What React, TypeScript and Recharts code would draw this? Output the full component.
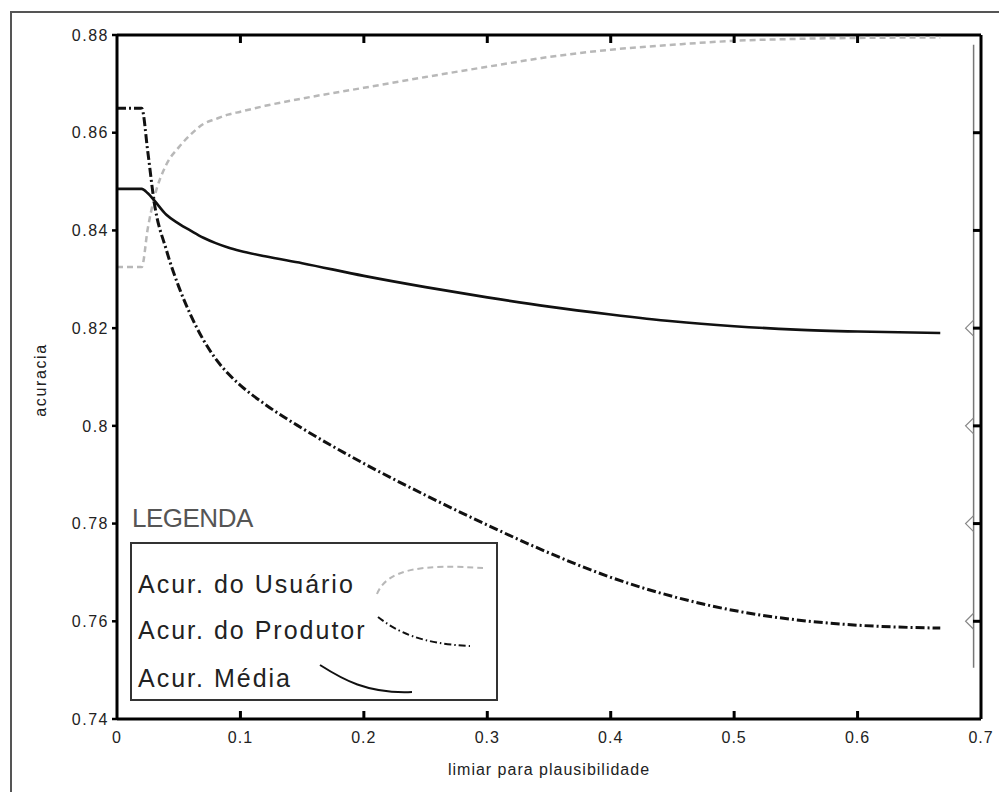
import React from 'react';
import { LineChart, Line, XAxis, YAxis, ReferenceLine, ReferenceDot } from 'recharts';

// ---- data ----
const thresholds = [0, 0.02, 0.025, 0.03, 0.04, 0.05, 0.06, 0.07, 0.08, 0.09, 0.1, 0.12, 0.15, 0.2, 0.25, 0.3, 0.35, 0.4, 0.45, 0.5, 0.55, 0.6, 0.667];
const acurUsuario = [0.8325, 0.8325, 0.8405, 0.8465, 0.8535, 0.857, 0.8597, 0.8618, 0.8628, 0.8637, 0.8643, 0.8655, 0.867, 0.8692, 0.8714, 0.8735, 0.8755, 0.877, 0.878, 0.8788, 0.8792, 0.8794, 0.8795];
const acurProdutor = [0.865, 0.865, 0.856, 0.846, 0.836, 0.8285, 0.8225, 0.8176, 0.8137, 0.8107, 0.8083, 0.8044, 0.7995, 0.7923, 0.7858, 0.7797, 0.774, 0.769, 0.7651, 0.7622, 0.7603, 0.7592, 0.7586];
const acurMedia = [0.8485, 0.8485, 0.8476, 0.8462, 0.8432, 0.8414, 0.8399, 0.8385, 0.8374, 0.8365, 0.8358, 0.8347, 0.8333, 0.8307, 0.8284, 0.8263, 0.8244, 0.8228, 0.8214, 0.8204, 0.8197, 0.8193, 0.819];
const xTicks = [0, 0.1, 0.2, 0.3, 0.4, 0.5, 0.6, 0.7];
const yTicks = [0.74, 0.76, 0.78, 0.8, 0.82, 0.84, 0.86, 0.88];
const xDomain = [0, 0.7];
const yDomain = [0.74, 0.88];
const seriesNames = ['Acur. do Usuário', 'Acur. do Produtor', 'Acur. Média'];
const legendTitle = 'LEGENDA';
const xTitle = 'limiar para plausibilidade';
const yTitle = 'acuracia';
const rightMarkerX = 0.694;
const rightMarkerLevels = [0.82, 0.8, 0.78, 0.76];
const rightLineRange = [0.7505, 0.878];

const data = thresholds.map((x, i) => ({
  x,
  usuario: acurUsuario[i],
  produtor: acurProdutor[i],
  media: acurMedia[i],
}));

// ---- layout ----
const W = 999;
const H = 792;
const MARGIN = { top: 35, right: 18, bottom: 8, left: 57 };
const Y_AXIS_W = 60;
const X_AXIS_H = 65;
const PLOT_L = MARGIN.left + Y_AXIS_W;
const PLOT_T = MARGIN.top;
const PLOT_W = W - MARGIN.left - MARGIN.right - Y_AXIS_W;
const PLOT_H = H - MARGIN.top - MARGIN.bottom - X_AXIS_H;
const INNER_TICK = 8;
const OUTER_TICK = 5;

const FONT = "'Liberation Sans', Arial, sans-serif";

// axis-frame tick positions (same linear mapping as the chart's axes)
const tickX = (v: number) => PLOT_L + ((v - xDomain[0]) / (xDomain[1] - xDomain[0])) * PLOT_W;
const tickY = (v: number) => PLOT_T + ((yDomain[1] - v) / (yDomain[1] - yDomain[0])) * PLOT_H;

const YTitle = (props: any) => {
  const vb = props.viewBox || { x: MARGIN.left, y: MARGIN.top, width: Y_AXIS_W, height: PLOT_H };
  const cx = vb.x - 17;
  const cy = vb.y + vb.height / 2 + 3;
  return (
    <text x={cx} y={cy} transform={`rotate(-90 ${cx} ${cy})`} textAnchor="middle" dominantBaseline="central" fontSize={16} fill="#222" letterSpacing={1.6} fontFamily={FONT}>
      {yTitle}
    </text>
  );
};

const Chevron = (props: any) => {
  const { cx, cy } = props;
  if (cx == null || cy == null) return <g />;
  return <path d={`M${cx},${cy - 8} L${cx - 8},${cy} L${cx},${cy + 8}`} fill="none" stroke="#888" strokeWidth={1.2} />;
};

const legendStyles = [
  { stroke: '#b8b8b8', dash: '6 4', d: 'M245,50 C255,25 290,20 351,24' },
  { stroke: '#111', dash: '7 3 1.5 3', d: 'M246,73 C265,88 290,100 338,102' },
  { stroke: '#111', dash: undefined, d: 'M188,121 C210,135 235,150 280,148' },
];
const legendTops = [28, 74, 122];

export default function App() {
  const innerX = xTicks.filter((t) => t > xDomain[0] && t < xDomain[1]);
  const innerY = yTicks.filter((t) => t > yDomain[0] && t < yDomain[1]);
  return (
    <div style={{ position: 'absolute', left: 0, top: 0, width: W, height: H, overflow: 'hidden', background: '#fff', fontFamily: FONT }}>
      <div style={{ position: 'absolute', left: 10, top: 11, width: 1010, height: 820, border: '2px solid #555' }} />
      <LineChart width={W} height={H} data={data} margin={MARGIN}>
        <XAxis
          dataKey="x"
          type="number"
          domain={xDomain}
          ticks={xTicks}
          height={X_AXIS_H}
          tickSize={7}
          tickMargin={6}
          tickLine={false}
          tick={{ fontSize: 16, fill: '#222', letterSpacing: 1 } as any}
          axisLine={{ stroke: '#000', strokeWidth: 3 }}
          label={{ value: xTitle, position: 'insideBottom', offset: 9, fontSize: 16, fill: '#222', letterSpacing: 1 } as any}
        />
        <YAxis
          type="number"
          domain={yDomain}
          ticks={yTicks}
          width={Y_AXIS_W}
          tickSize={5}
          tickMargin={3}
          tick={{ fontSize: 16, fill: '#222', letterSpacing: 1.5 } as any}
          tickLine={false}
          axisLine={{ stroke: '#000', strokeWidth: 3 }}
          label={(p: any) => <YTitle {...p} />}
        />
        {/* plot frame: top and right edges */}
        <ReferenceLine y={yDomain[1]} stroke="#000" strokeWidth={3} ifOverflow="visible" />
        <ReferenceLine x={xDomain[1]} stroke="#000" strokeWidth={3} ifOverflow="visible" />
        <ReferenceLine
          segment={[{ x: rightMarkerX, y: rightLineRange[0] }, { x: rightMarkerX, y: rightLineRange[1] }]}
          stroke="#777"
          strokeWidth={1.5}
        />
        {rightMarkerLevels.map((lv) => (
          <ReferenceDot key={lv} x={rightMarkerX} y={lv} r={0} shape={<Chevron />} />
        ))}
        <Line type="monotone" dataKey="usuario" name={seriesNames[0]} stroke="#b8b8b8" strokeWidth={2.5} strokeDasharray="6 4" dot={false} isAnimationActive={false} />
        <Line type="monotone" dataKey="produtor" name={seriesNames[1]} stroke="#111" strokeWidth={3} strokeDasharray="9 3 2 3" dot={false} isAnimationActive={false} />
        <Line type="monotone" dataKey="media" name={seriesNames[2]} stroke="#111" strokeWidth={2.6} dot={false} isAnimationActive={false} />
      </LineChart>
      {/* frame tick marks: inward on bottom/top/right, outward on left */}
      <svg width={W} height={H} style={{ position: 'absolute', left: 0, top: 0, pointerEvents: 'none' }}>
        {innerX.map((t) => (
          <g key={'x' + t}>
            <line x1={tickX(t)} x2={tickX(t)} y1={PLOT_T + PLOT_H} y2={PLOT_T + PLOT_H - INNER_TICK} stroke="#000" strokeWidth={3} />
            <line x1={tickX(t)} x2={tickX(t)} y1={PLOT_T} y2={PLOT_T + INNER_TICK} stroke="#000" strokeWidth={3} />
          </g>
        ))}
        {innerY.map((t) => (
          <line key={'r' + t} x1={PLOT_L + PLOT_W} x2={PLOT_L + PLOT_W - INNER_TICK} y1={tickY(t)} y2={tickY(t)} stroke="#000" strokeWidth={3} />
        ))}
        {yTicks.map((t) => (
          <line key={'l' + t} x1={PLOT_L} x2={PLOT_L - OUTER_TICK} y1={tickY(t)} y2={tickY(t)} stroke="#000" strokeWidth={2.5} />
        ))}
      </svg>
      <div style={{ position: 'absolute', left: 132, top: 505, fontSize: 26, lineHeight: '26px', color: '#555', letterSpacing: -0.5 }}>
        {legendTitle}
      </div>
      <div style={{ position: 'absolute', left: 130, top: 542, width: 368, height: 159, border: '2px solid #333', boxSizing: 'border-box', background: '#fff' }}>
        <svg width={364} height={155} style={{ position: 'absolute', left: 0, top: 0 }}>
          {legendStyles.map((s, i) => (
            <path key={i} d={s.d} fill="none" stroke={s.stroke} strokeWidth={2} strokeDasharray={s.dash} />
          ))}
        </svg>
        {seriesNames.map((n, i) => (
          <div key={n} style={{ position: 'absolute', left: 6, top: legendTops[i], fontSize: 25, lineHeight: '25px', color: '#222', letterSpacing: 2, whiteSpace: 'nowrap' }}>
            {n}
          </div>
        ))}
      </div>
    </div>
  );
}
